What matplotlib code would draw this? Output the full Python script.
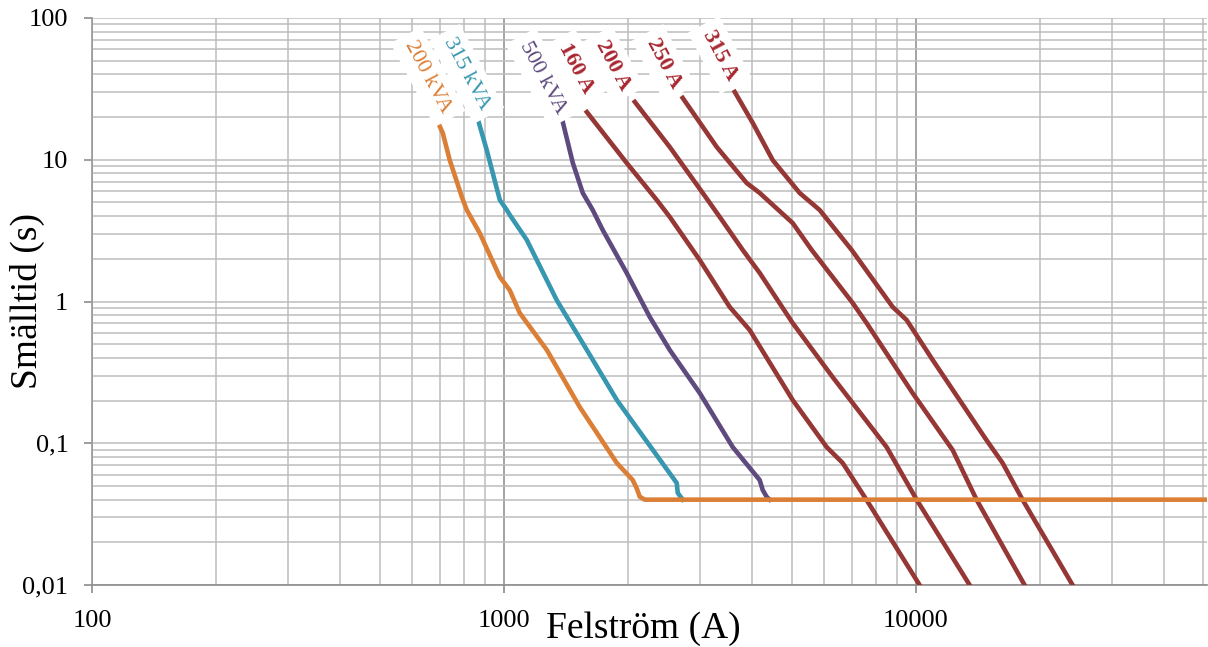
import matplotlib
matplotlib.use("Agg")
import matplotlib.pyplot as plt
from matplotlib.ticker import FixedLocator, FixedFormatter, LogLocator, NullFormatter

plt.rcParams['font.family'] = ['Liberation Serif', 'DejaVu Serif']

# smältkurvor, ström (A) och tid (s)
kva200_x = [688, 711, 739, 791, 813, 874, 978, 1034, 1093, 1272, 1529, 1881, 2056, 2103, 2138, 2199, 52000]
kva200_y = [19.1, 15.4, 9.95, 5.46, 4.42, 3.04, 1.49, 1.2, 0.83, 0.455, 0.18, 0.0726, 0.055, 0.048, 0.042, 0.04, 0.04]

kva315_x = [855, 909, 978, 1017, 1034, 1137, 1345, 1591, 1881, 2630, 2645, 2720]
kva315_y = [21.7, 11.7, 5.2, 4.42, 4.08, 2.72, 1.02, 0.455, 0.202, 0.0524, 0.0446, 0.04]

kva500_x = [1383, 1471, 1555, 1644, 1739, 1988, 2262, 2529, 2991, 3596, 4182, 4253, 4349, 4422]
kva500_y = [19.7, 9.49, 5.83, 4.42, 3.19, 1.59, 0.777, 0.455, 0.226, 0.094, 0.055, 0.0468, 0.0418, 0.04]

a160_x = [1591, 1988, 2352, 2529, 2991, 3536, 3954, 5028, 6081, 6650, 7603, 10224]
a160_y = [21.7, 9.49, 5.2, 3.95, 1.96, 0.915, 0.629, 0.202, 0.094, 0.0726, 0.0398, 0.01]

a200_x = [2080, 2529, 3041, 3344, 3803, 4182, 5028, 6288, 8503, 10056, 13525]
a200_y = [25.6, 12.3, 5.83, 3.95, 2.31, 1.59, 0.705, 0.293, 0.094, 0.04, 0.01]

a250_x = [2719, 3289, 3889, 4182, 5028, 5592, 7034, 7603, 9833, 12300, 14060, 18390]
a250_y = [27.3, 12.3, 6.85, 5.83, 3.58, 2.31, 0.976, 0.705, 0.226, 0.0896, 0.04, 0.01]

a315_x = [3637, 4022, 4497, 5229, 5848, 6994, 8795, 9511, 11000, 14870, 16260, 18180, 24050]
a315_y = [30.1, 18.2, 9.95, 5.83, 4.42, 2.31, 0.915, 0.74, 0.387, 0.105, 0.0726, 0.04, 0.01]

# etiketter: text, läge (A, s)
labels = ["200 kVA", "315 kVA", "500 kVA", "160 A", "200 A", "250 A", "315 A"]
label_x = [654, 813, 1244, 1495, 1839, 2445, 3344]
label_y = [38.4, 40.3, 37.7, 44.4, 46.6, 48.1, 54.8]

orange = '#dc7f36'
teal = '#3797b0'
purple = '#5e4a7e'
red = '#953735'

fig = plt.figure(figsize=(12.08, 6.47), dpi=100)
ax = fig.add_axes([92 / 1208, 62 / 647, 1115 / 1208, 567 / 647])

lw = 3.3
ax.plot(a160_x, a160_y, color=red, lw=lw, zorder=3)
ax.plot(a200_x, a200_y, color=red, lw=lw, zorder=3)
ax.plot(a250_x, a250_y, color=red, lw=lw, zorder=3)
ax.plot(a315_x, a315_y, color=red, lw=lw, zorder=3)
ax.plot(kva500_x, kva500_y, color=purple, lw=lw, zorder=4)
ax.plot(kva315_x, kva315_y, color=teal, lw=lw, zorder=4)
ax.plot(kva200_x, kva200_y, color=orange, lw=lw, zorder=5)

label_colors = [orange, teal, purple, '#a8262f', '#a8262f', '#a8262f', '#a8262f']
for i, txt in enumerate(labels):
    bold = 'kVA' not in txt
    ax.text(label_x[i], label_y[i], txt, color=label_colors[i], fontsize=16,
            fontweight='bold' if bold else 'normal',
            rotation=-62, rotation_mode='anchor', ha='center', va='center',
            zorder=6,
            bbox=dict(boxstyle='square,pad=0.35', fc='white', ec='none'))

ax.set_xscale('log')
ax.set_yscale('log')
ax.set_xlim(100, 51000)
ax.set_ylim(0.01, 100)

ax.xaxis.set_major_locator(FixedLocator([100, 1000, 10000]))
ax.xaxis.set_major_formatter(FixedFormatter(['100', '1000', '10000']))
ax.yaxis.set_major_locator(FixedLocator([0.01, 0.1, 1, 10, 100]))
ax.yaxis.set_major_formatter(FixedFormatter(['0,01', '0,1', '1', '10', '100']))
ax.xaxis.set_minor_locator(LogLocator(base=10, subs=range(2, 10), numticks=20))
ax.yaxis.set_minor_locator(LogLocator(base=10, subs=range(2, 10), numticks=20))
ax.xaxis.set_minor_formatter(NullFormatter())
ax.yaxis.set_minor_formatter(NullFormatter())

ax.tick_params(which='minor', length=0)
ax.tick_params(which='major', length=6, width=1.2, color='#8c8c8c', labelsize=19)
ax.tick_params(axis='x', which='major', pad=12)
ax.tick_params(axis='y', which='major', pad=11)

ax.grid(which='minor', color='#bdbdbd', lw=1.1)
ax.grid(which='major', axis='y', color='#bdbdbd', lw=1.1)
ax.grid(which='major', axis='x', color='#8c8c8c', lw=1.1)

ax.spines['top'].set_visible(False)
ax.spines['right'].set_visible(False)
ax.spines['left'].set_color('#9a9a9a')
ax.spines['bottom'].set_color('#8c8c8c')
ax.spines['left'].set_linewidth(1.2)
ax.spines['bottom'].set_linewidth(1.2)

fig.text(643 / 1208, 1 - 638 / 647, 'Felström (A)', fontsize=27, ha='center', va='baseline')
fig.text(27 / 1208, 1 - 301 / 647, 'Smälltid (s)', fontsize=27, ha='center', va='center', rotation=90)

fig.savefig('out.png', dpi=100)
